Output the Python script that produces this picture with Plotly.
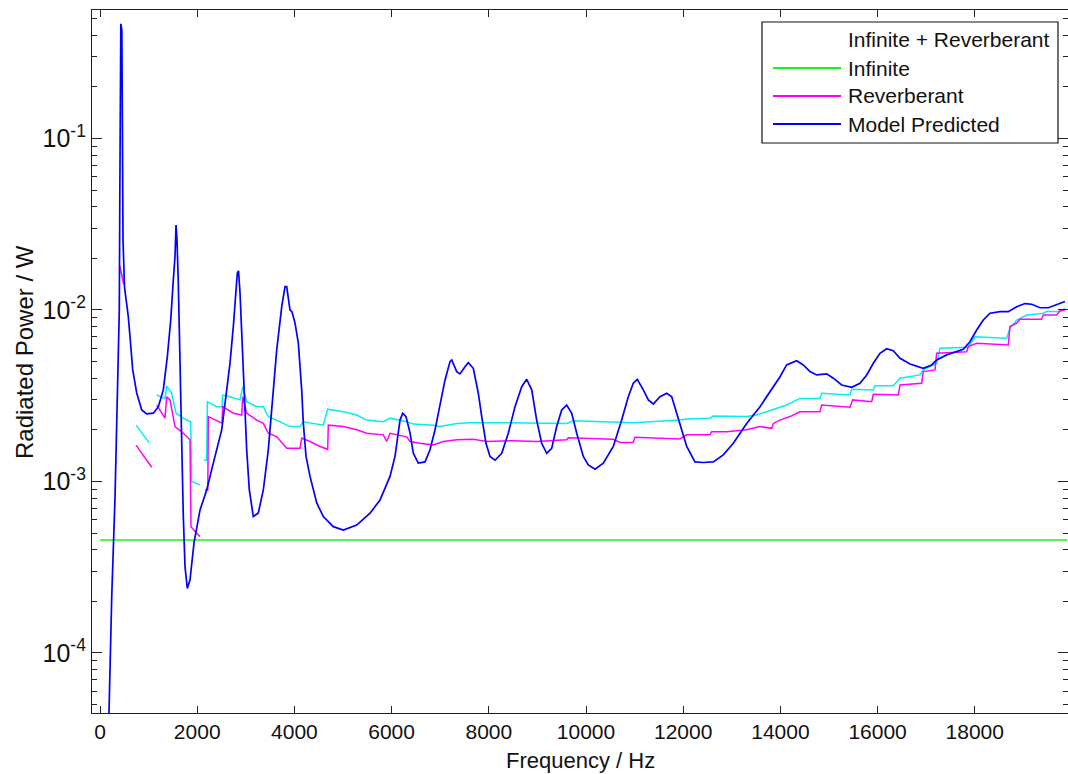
import plotly.graph_objects as go

# ---------------- data ----------------
model_freq = [170, 185, 241, 309, 356, 397, 407, 418, 428, 449, 459, 473, 504,
              582, 617, 673, 755, 858, 961, 1097, 1200, 1302, 1385, 1455, 1508, 1543, 1564, 1584, 1611,
              1646, 1681, 1714, 1749, 1796, 1852, 1907, 1934, 2058, 2195, 2331, 2504, 2607, 2675, 2743,
              2792, 2825, 2850, 2881, 2916, 2963, 3018, 3072, 3154, 3257, 3360, 3463, 3566, 3636, 3739,
              3807, 3841, 3909, 3951, 4012, 4080, 4150, 4183, 4239, 4321, 4459, 4595, 4800, 5006, 5282,
              5556, 5761, 5967, 6070, 6173, 6228, 6296, 6379, 6447, 6549, 6687, 6790, 6893, 6996, 7099,
              7202, 7237, 7340, 7407, 7510, 7578, 7681, 7784, 7854, 7942, 8025, 8128, 8266, 8401, 8539,
              8677, 8780, 8883, 8985, 9088, 9191, 9294, 9397, 9500, 9603, 9706, 9809, 9944, 10047, 10185,
              10356, 10562, 10734, 10870, 10973, 11056, 11179, 11282, 11385, 11523, 11661, 11764, 11866,
              11969, 12072, 12243, 12414, 12619, 12825, 13031, 13306, 13580, 13854, 13992, 14129, 14335,
              14471, 14609, 14747, 14953, 15089, 15261, 15467, 15638, 15776, 15912, 16049, 16187, 16323,
              16461, 16667, 16940, 17113, 17216, 17422, 17627, 17763, 17901, 18039, 18175, 18313, 18518,
              18689, 18862, 19033, 19171, 19342, 19513, 19685, 19856]
model_power = [3.0e-5, 4.47e-5, 2.13e-4, 8.15e-4, 4.08e-3, 1.00e-2, 4.38e-2, 0.287, 0.466, 0.43, 0.0857, 0.0256, 0.0136,
               9.14e-3, 6.98e-3, 4.47e-3, 3.28e-3, 2.61e-3, 2.48e-3, 2.50e-3, 2.73e-3, 3.42e-3, 5.34e-3, 8.74e-3, 0.01496, 0.0205, 0.0313, 0.0256, 0.0144,
               4.67e-3, 1.53e-3, 6.24e-4, 3.18e-4, 2.38e-4, 2.67e-4, 3.65e-4, 4.38e-4, 6.82e-4, 8.92e-4, 1.28e-3, 2.00e-3, 3.42e-3, 4.91e-3, 8.00e-3,
               0.0131, 0.0164, 0.0169, 0.01256, 7.34e-3, 3.75e-3, 1.53e-3, 8.92e-4, 6.24e-4, 6.55e-4, 8.92e-4, 1.53e-3, 3.42e-3, 5.85e-3, 0.01045,
               0.01368, 0.01368, 0.0100, 9.73e-3, 8.40e-3, 6.42e-3, 3.42e-3, 2.19e-3, 1.40e-3, 1.07e-3, 7.50e-4, 6.24e-4, 5.45e-4, 5.21e-4, 5.57e-4,
               6.53e-4, 7.80e-4, 1.07e-3, 1.40e-3, 2.28e-3, 2.50e-3, 2.39e-3, 1.92e-3, 1.46e-3, 1.28e-3, 1.30e-3, 1.53e-3, 2.00e-3, 2.73e-3, 3.91e-3,
               5.00e-3, 5.11e-3, 4.37e-3, 4.24e-3, 4.67e-3, 4.93e-3, 4.57e-3, 3.27e-3, 2.39e-3, 1.67e-3, 1.40e-3, 1.33e-3, 1.46e-3, 1.91e-3, 2.73e-3,
               3.57e-3, 3.94e-3, 3.42e-3, 2.28e-3, 1.67e-3, 1.46e-3, 1.56e-3, 2.09e-3, 2.61e-3, 2.79e-3, 2.50e-3, 1.91e-3, 1.40e-3, 1.25e-3, 1.18e-3,
               1.28e-3, 1.60e-3, 2.28e-3, 3.12e-3, 3.74e-3, 3.94e-3, 3.42e-3, 2.99e-3, 2.83e-3, 3.12e-3, 3.27e-3, 3.12e-3, 2.50e-3,
               2.00e-3, 1.60e-3, 1.30e-3, 1.29e-3, 1.30e-3, 1.43e-3, 1.67e-3, 2.18e-3, 2.73e-3, 3.57e-3, 4.08e-3, 4.78e-3, 5.06e-3,
               4.78e-3, 4.37e-3, 4.18e-3, 4.24e-3, 4.00e-3, 3.65e-3, 3.54e-3, 3.74e-3, 4.18e-3, 4.89e-3, 5.59e-3, 5.94e-3, 5.79e-3,
               5.23e-3, 4.84e-3, 4.57e-3, 4.78e-3, 5.11e-3, 5.47e-3, 5.71e-3, 5.90e-3, 6.53e-3, 7.64e-3, 8.74e-3, 9.57e-3, 9.78e-3,
               9.78e-3, 0.01045, 0.0109, 0.0108, 0.0103, 0.0103, 0.0108, 0.0112]

infrev_freq = [432, 484, None,
               741, 1014, None,
               1167, 1337, 1372, 1475, 1564, 1714, 1866, 1887, 2058, None,
               2140, 2195, 2208, 2401, 2510, 2524, 2675, 2881, 2936, 3018, 3224, 3360, 3463, 3636, 3909,
               4115, 4183, 4595, 4685, 5006, 5282, 5488, 5829, 5967, 6311, 6447, 6858, 6996, 7340, 7613,
               8162, 9603, 9739, 10973, 11934, 12072, 12551, 12619, 13306, 13512, 13821, 14129, 14403,
               14815, 14850, 15432, 15467, 15912, 15946, 16323, 16461, 16872, 16940, 17216, 17284, 17867,
               18004, 18656, 18724, 18862, 19068, 19410, 19479, 19753, 19856]
infrev_power = [0.0167, 0.01496, None,
                2.13e-3, 1.68e-3, None,
                3.19e-3, 3.05e-3, 3.60e-3, 3.27e-3, 2.50e-3, 2.34e-3, 2.23e-3, 1.00e-3, 9.55e-4, None,
                1.33e-3, 1.33e-3, 2.92e-3, 2.73e-3, 2.73e-3, 3.19e-3, 3.12e-3, 2.99e-3, 3.57e-3, 2.92e-3, 2.73e-3, 2.73e-3, 2.39e-3, 2.28e-3, 2.09e-3,
                2.09e-3, 2.23e-3, 2.13e-3, 2.64e-3, 2.55e-3, 2.44e-3, 2.28e-3, 2.23e-3, 2.34e-3, 2.23e-3, 2.16e-3, 2.13e-3, 2.09e-3, 2.18e-3, 2.20e-3,
                2.20e-3, 2.18e-3, 2.26e-3, 2.20e-3, 2.28e-3, 2.31e-3, 2.34e-3, 2.41e-3, 2.39e-3, 2.44e-3, 2.61e-3, 2.79e-3, 3.05e-3,
                3.05e-3, 3.27e-3, 3.19e-3, 3.45e-3, 3.42e-3, 3.62e-3, 3.62e-3, 4.00e-3, 4.18e-3, 4.47e-3, 4.89e-3, 5.98e-3, 6.06e-3,
                6.98e-3, 6.84e-3, 7.82e-3, 8.74e-3, 9.35e-3, 9.57e-3, 9.78e-3, 9.78e-3, 0.0102]

rev_freq = [407, 442, 484, None,
            741, 885, 1064, None,
            1167, 1337, 1372, 1440, 1543, 1714, 1852, 1872, 1990, 2058, None,
            2160, 2218, 2228, 2434, 2510, 2524, 2743, 2916, 2936, 3018, 3224, 3360, 3463, 3636, 3841,
            4115, 4150, 4321, 4527, 4685, 4697, 5006, 5282, 5488, 5829, 5899, 5967, 6311, 6379, 6584,
            6858, 7064, 7340, 7681, 7957, 8504, 8985, 9603, 9636, 10562, 10700, 10973, 11008, 11934,
            12072, 12551, 12586, 12895, 13306, 13580, 13821, 13854, 13992, 14198, 14403, 14815, 14850,
            15432, 15488, 15879, 15912, 16426, 16461, 16907, 16940, 17181, 17216, 17833, 17867, 18039,
            18689, 18724, 18862, 18930, 19376, 19410, 19685, 19753, 19856]
rev_power = [0.0181, 0.0158, 0.0142, None,
             1.63e-3, 1.43e-3, 1.21e-3, None,
             2.79e-3, 2.34e-3, 3.12e-3, 2.99e-3, 2.09e-3, 1.91e-3, 1.75e-3, 5.45e-4, 4.99e-4, 4.77e-4, None,
             8.92e-4, 8.92e-4, 2.39e-3, 2.23e-3, 2.19e-3, 2.73e-3, 2.50e-3, 2.44e-3, 3.12e-3, 2.50e-3, 2.28e-3, 2.18e-3, 1.91e-3, 1.82e-3, 1.56e-3,
             1.56e-3, 1.79e-3, 1.71e-3, 1.60e-3, 1.54e-3, 2.13e-3, 2.09e-3, 2.00e-3, 1.91e-3, 1.87e-3, 1.71e-3, 1.91e-3, 1.82e-3, 1.71e-3, 1.67e-3,
             1.63e-3, 1.71e-3, 1.75e-3, 1.76e-3, 1.71e-3, 1.73e-3, 1.71e-3, 1.75e-3, 1.80e-3, 1.76e-3, 1.69e-3, 1.69e-3, 1.81e-3, 1.77e-3,
             1.87e-3, 1.87e-3, 1.95e-3, 1.95e-3, 2.00e-3, 2.09e-3, 2.04e-3, 2.18e-3, 2.28e-3, 2.39e-3, 2.55e-3, 2.55e-3, 2.79e-3,
             2.71e-3, 2.99e-3, 2.92e-3, 3.22e-3, 3.19e-3, 3.65e-3, 3.74e-3, 4.37e-3, 4.47e-3, 5.59e-3, 5.71e-3, 6.11e-3, 6.40e-3,
             6.25e-3, 8.00e-3, 8.38e-3, 8.83e-3, 8.83e-3, 9.35e-3, 9.35e-3, 9.91e-3, 1.0e-2]

infinite_freq = [0, 19900]
infinite_power = [4.56e-4, 4.56e-4]

x_tick_vals = [0, 2000, 4000, 6000, 8000, 10000, 12000, 14000, 16000, 18000]
x_tick_text = ["0", "2000", "4000", "6000", "8000", "10000", "12000", "14000", "16000", "18000"]
y_tick_vals = [1e-4, 1e-3, 1e-2, 1e-1]
y_tick_text = ["10<sup>-4</sup>", "10<sup>-3</sup>", "10<sup>-2</sup>", "10<sup>-1</sup>"]

legend_labels = ["Infinite + Reverberant", "Infinite", "Reverberant", "Model Predicted"]

# ---------------- styling ----------------
C_INFREV = "#00f0f0"
C_INF = "#22ee22"
C_REV = "#ff00ff"
C_MOD = "#0000ff"
FONT = "Liberation Sans, Arial, sans-serif"

W, H = 1068, 774
L, R, T, B = 92, 0, 10, 61
pw, ph = W - L - R, H - T - B


def px(x):
    return (x - L) / pw


def py(y):
    return (H - B - y) / ph


fig = go.Figure()
fig.add_trace(go.Scatter(x=infinite_freq, y=infinite_power, mode="lines",
                         line=dict(color=C_INF, width=1.6), name="Infinite", showlegend=False))
fig.add_trace(go.Scatter(x=infrev_freq, y=infrev_power, mode="lines", connectgaps=False,
                         line=dict(color=C_INFREV, width=1.5), name="Infinite + Reverberant", showlegend=False))
fig.add_trace(go.Scatter(x=rev_freq, y=rev_power, mode="lines", connectgaps=False,
                         line=dict(color=C_REV, width=1.5), name="Reverberant", showlegend=False))
fig.add_trace(go.Scatter(x=model_freq, y=model_power, mode="lines",
                         line=dict(color=C_MOD, width=1.7), name="Model Predicted", showlegend=False))

minor_vals = [m * 10 ** k for k in range(-5, 0) for m in range(2, 10)]

fig.update_xaxes(range=[-165, 19918], tickmode="array", tickvals=x_tick_vals, ticktext=x_tick_text,
                 ticks="inside", ticklen=7, tickcolor="#222", showline=True, linecolor="#222", linewidth=1.2,
                 mirror="ticks", showgrid=False, zeroline=False,
                 tickfont=dict(family=FONT, size=21, color="#111"))
fig.update_yaxes(type="log", range=[-4.35, -0.251], tickmode="array", tickvals=y_tick_vals, ticktext=y_tick_text,
                 ticks="inside", ticklen=10, tickcolor="#222", showline=True, linecolor="#222", linewidth=1.2,
                 mirror="ticks", showgrid=False, zeroline=False,
                 minor=dict(tickmode="array", tickvals=minor_vals, ticks="inside", ticklen=5, tickcolor="#222", showgrid=False),
                 tickfont=dict(family=FONT, size=25, color="#111"))

# legend box (manual)
shapes = [dict(type="rect", xref="paper", yref="paper", x0=px(762), x1=px(1058), y0=py(143), y1=py(22),
               line=dict(color="#111", width=1.2), fillcolor="white", layer="above")]
legend_colors = [None, C_INF, C_REV, C_MOD]
legend_y = [39, 68, 96, 124]
annotations = []
for lab, col, ly in zip(legend_labels, legend_colors, legend_y):
    if col is not None:
        shapes.append(dict(type="line", xref="paper", yref="paper", x0=px(773), x1=px(841), y0=py(ly), y1=py(ly),
                           line=dict(color=col, width=2), layer="above"))
    annotations.append(dict(text=lab, xref="paper", yref="paper", x=px(846), y=py(ly), xanchor="left", yanchor="middle",
                            showarrow=False, font=dict(family=FONT, size=21, color="#111")))

annotations.append(dict(text="Frequency / Hz", xref="paper", yref="paper", x=px(580), y=py(760),
                        xanchor="center", yanchor="middle", showarrow=False,
                        font=dict(family=FONT, size=22, color="#111")))
annotations.append(dict(text="Radiated Power / W", xref="paper", yref="paper", x=px(24), y=py(352),
                        xanchor="center", yanchor="middle", textangle=-90, showarrow=False,
                        font=dict(family=FONT, size=24, color="#111")))

fig.update_layout(width=W, height=H, margin=dict(l=L, r=R, t=T, b=B, pad=0),
                  paper_bgcolor="white", plot_bgcolor="white", showlegend=False,
                  shapes=shapes, annotations=annotations)

fig.write_html("out.html")
